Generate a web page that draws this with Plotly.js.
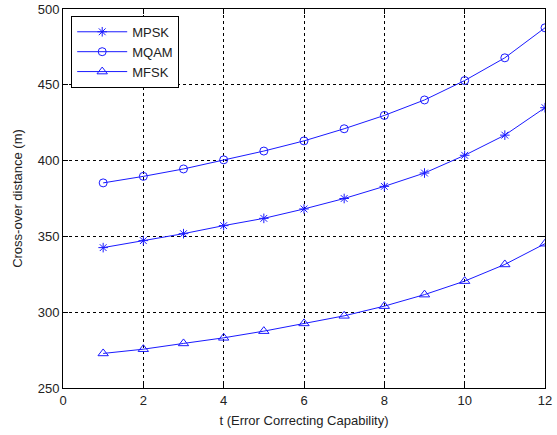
<!DOCTYPE html>
<html><head><meta charset="utf-8">
<script src="https://cdn.plot.ly/plotly-3.0.1.min.js"></script>
<style>html,body{margin:0;padding:0;background:#fff}#chart{width:557px;height:435px}</style>
</head><body><div id="chart"></div>
<script>
const t = [1,2,3,4,5,6,7,8,9,10,11,12];
const mpsk = [342.6,347.2,351.8,357.1,361.9,368.1,375.0,383.0,391.8,403.5,416.8,434.9];
const mqam = [385.3,389.6,394.5,400.5,406.3,413.0,421.0,429.8,440.0,452.8,467.8,487.6];
const mfsk = [272.8,275.6,279.4,283.1,287.5,292.6,297.6,304.0,311.6,320.5,331.5,345.2];
const names = ['MPSK','MQAM','MFSK'];
const xTicks = [0,2,4,6,8,10,12];
const yTicks = [250,300,350,400,450,500];
const blue = '#1a1aff';
const fnt = {family: 'Arial, Liberation Sans', size: 13, color: '#222'};
const mk = (sym, sz) => ({symbol: sym, size: sz, color: blue, line: {color: blue, width: 1}});
const traces = [
  {x: t, y: mpsk, name: names[0], mode: 'lines+markers', line: {color: blue, width: 1}, marker: mk('asterisk-open', 8)},
  {x: t, y: mqam, name: names[1], mode: 'lines+markers', line: {color: blue, width: 1}, marker: mk('circle-open', 8)},
  {x: t, y: mfsk, name: names[2], mode: 'lines+markers', line: {color: blue, width: 1}, marker: mk('triangle-up-open', 9)}
];
const ax = {
  showline: true, linecolor: '#000', linewidth: 1, mirror: 'ticks',
  ticks: 'inside', ticklen: 5, tickcolor: '#000',
  showgrid: true, gridcolor: '#000', griddash: 'dot', gridwidth: 1,
  zeroline: false, tickfont: fnt
};
const layout = {
  width: 557, height: 435,
  margin: {l: 63, r: 12, t: 9, b: 47},
  paper_bgcolor: '#fff', plot_bgcolor: '#fff',
  showlegend: true,
  legend: {x: 0.017, y: 0.982, xanchor: 'left', yanchor: 'top', bgcolor: '#fff',
           bordercolor: '#000', borderwidth: 1, font: fnt, tracegroupgap: 0, itemwidth: 50},
  xaxis: Object.assign({}, ax, {range: [0, 12], tickvals: xTicks, ticktext: xTicks.map(String),
          title: {text: 't (Error Correcting Capability)', font: fnt, standoff: 9}}),
  yaxis: Object.assign({}, ax, {range: [250, 500], tickvals: yTicks, ticktext: yTicks.map(String),
          title: {text: 'Cross-over distance (m)', font: fnt, standoff: 12}})
};
Plotly.newPlot('chart', traces, layout, {displayModeBar: false, staticPlot: true});
</script></body></html>
